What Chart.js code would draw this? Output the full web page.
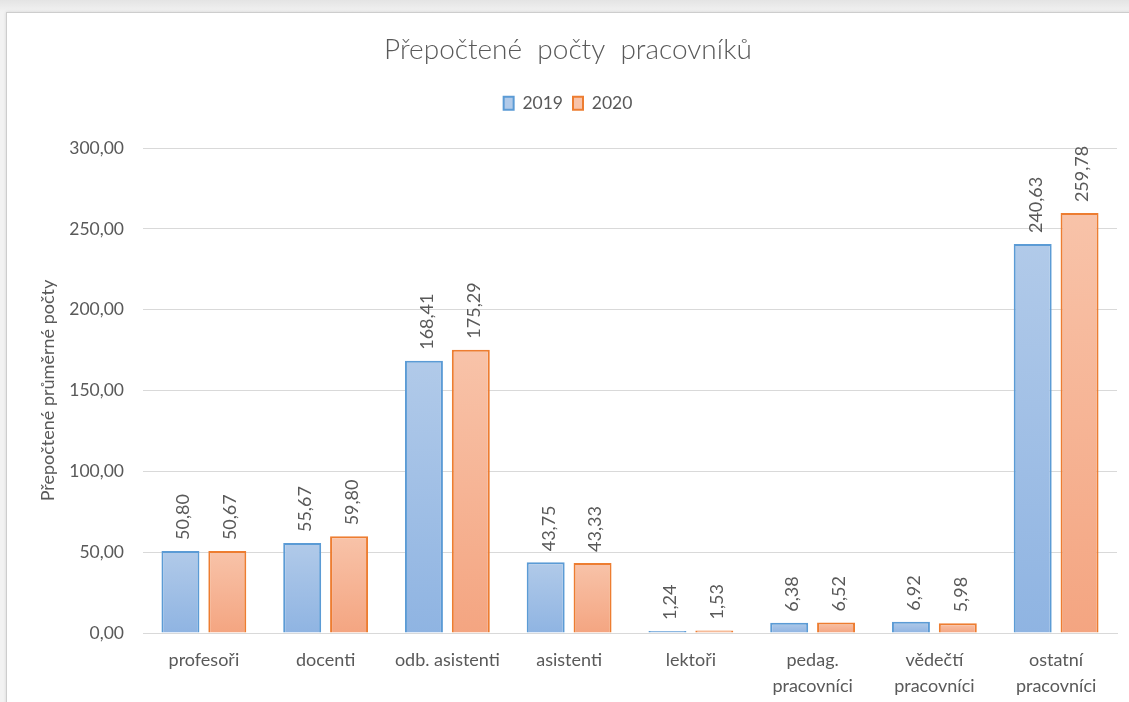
<!DOCTYPE html>
<html>
<head>
<meta charset="utf-8">
<script src="https://cdn.jsdelivr.net/npm/chart.js@4.4.1/dist/chart.umd.min.js"></script>
<style>
  html, body { margin: 0; padding: 0; width: 1129px; height: 702px; overflow: hidden;
    background: linear-gradient(#e4e4e4, #f2f2f2 12px, #f2f2f2); }
  #card { position: absolute; left: 6px; top: 12px; width: 1130px; height: 700px;
    background: #fff; border: 1px solid #cdcdcd; box-shadow: 0 0 3px rgba(0,0,0,0.12); }
  #chart { position: absolute; left: 0; top: 0; }
</style>
</head>
<body>
<div id="card"><canvas id="chart" width="1122" height="689"></canvas></div>
<script>
const categories = [
  "profesoři", "docenti", "odb. asistenti", "asistenti", "lektoři",
  ["pedag.", "pracovníci"], ["vědečtí", "pracovníci"], ["ostatní", "pracovníci"]
];
const values2019 = [50.80, 55.67, 168.41, 43.75, 1.24, 6.38, 6.92, 240.63];
const values2020 = [50.67, 59.80, 175.29, 43.33, 1.53, 6.52, 5.98, 259.78];
const yTicks = [0, 50, 100, 150, 200, 250, 300];

const textColor = "#595959";
const fontFamily = "Lato, 'Open Sans', sans-serif";

// comma decimals like the original
const fmt = (v) => v.toFixed(2).replace(".", ",");

// each bar gets its own light-to-darker vertical gradient
function barFill(top, bottom, mid) {
  return (ctx) => {
    const chart = ctx.chart;
    if (ctx.type !== "data" || !chart.chartArea) return mid;
    const y = chart.scales.y;
    const yTop = y.getPixelForValue(ctx.raw);
    const yBottom = y.getPixelForValue(0);
    const g = chart.ctx.createLinearGradient(0, yTop, 0, yBottom);
    g.addColorStop(0, top);
    g.addColorStop(1, bottom);
    return g;
  };
}

// rotated value labels above the bars
const valueLabels = {
  id: "valueLabels",
  afterDatasetsDraw(chart) {
    const ctx = chart.ctx;
    ctx.save();
    ctx.font = "18px " + fontFamily;
    ctx.fillStyle = textColor;
    ctx.textAlign = "left";
    ctx.textBaseline = "middle";
    chart.data.datasets.forEach((ds, i) => {
      chart.getDatasetMeta(i).data.forEach((bar, j) => {
        ctx.save();
        ctx.translate(bar.x + 3, bar.y - 11);
        ctx.rotate(-Math.PI / 2);
        ctx.fillText(fmt(ds.data[j]), 0, 0);
        ctx.restore();
      });
    });
    ctx.restore();
  }
};

// leave extra room under the legend, as in the original
const legendGap = {
  id: "legendGap",
  beforeLayout(chart) {
    const legend = chart.legend;
    if (!legend || legend._gapPatched) return;
    const fit = legend.fit;
    legend.fit = function () {
      fit.call(this);
      this.height += 26;
    };
    legend._gapPatched = true;
  }
};

new Chart(document.getElementById("chart"), {
  type: "bar",
  data: {
    labels: categories,
    datasets: [
      {
        label: "2019",
        data: values2019,
        backgroundColor: barFill("#b1cae9", "#8fb4e2", "#a2c0e6"),
        borderColor: "#5b9bd5",
        borderWidth: 2,
        categoryPercentage: 0.77,
        barPercentage: 0.81
      },
      {
        label: "2020",
        data: values2020,
        backgroundColor: barFill("#f8c3a9", "#f4a581", "#f6b493"),
        borderColor: "#ed7d31",
        borderWidth: 2,
        categoryPercentage: 0.77,
        barPercentage: 0.81
      }
    ]
  },
  options: {
    responsive: false,
    animation: false,
    layout: { padding: { top: 0, right: 12, bottom: 0, left: 12 } },
    plugins: {
      title: {
        display: true,
        text: "Přepočtené  počty  pracovníků",
        color: textColor,
        font: { family: fontFamily, size: 28, weight: 300 },
        padding: { top: 20, bottom: 18 }
      },
      legend: {
        display: true,
        labels: {
          color: textColor,
          font: { family: fontFamily, size: 17.5 },
          boxWidth: 10,
          boxHeight: 13,
          padding: 10
        }
      },
      tooltip: { enabled: false }
    },
    scales: {
      x: {
        grid: { display: false, drawTicks: false },
        border: { display: true, color: "#d9d9d9", width: 1 },
        ticks: {
          color: textColor,
          font: { family: fontFamily, size: 18, lineHeight: 1.45 },
          padding: 14,
          maxRotation: 0,
          autoSkip: false
        },
        afterFit(scale) { scale.height = 69; }
      },
      y: {
        min: 0,
        max: 300,
        afterBuildTicks(scale) { scale.ticks = yTicks.map((v) => ({ value: v })); },
        grid: { color: "#d9d9d9", lineWidth: 1, drawTicks: false },
        border: { display: false },
        ticks: {
          color: textColor,
          font: { family: fontFamily, size: 17.5 },
          padding: 19,
          callback: (v) => fmt(v)
        },
        title: {
          display: true,
          text: "Přepočtené průměrné počty",
          color: textColor,
          font: { family: fontFamily, size: 18 },
          padding: { top: 18, bottom: 0 }
        },
        afterFit(scale) { scale.width = 124; }
      }
    }
  },
  plugins: [valueLabels, legendGap]
});
</script>
</body>
</html>
